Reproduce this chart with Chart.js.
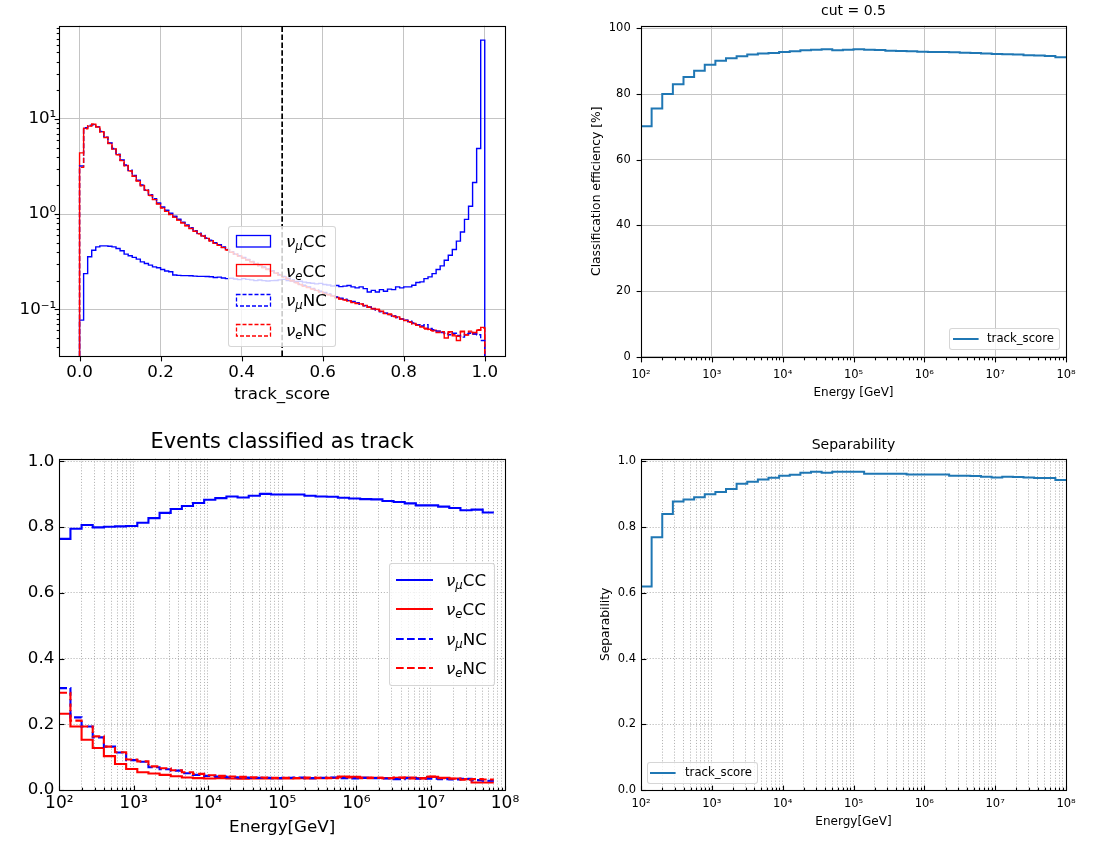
<!DOCTYPE html>
<html>
<head>
<meta charset="utf-8">
<title>Track score classification</title>
<script src="https://cdn.jsdelivr.net/npm/chart.js@4/dist/chart.umd.min.js"></script>
<style>
  html, body { margin: 0; padding: 0; background: #fff; }
  body { position: relative; width: 1107px; height: 843px; overflow: hidden; font-family: 'DejaVu Sans', sans-serif; }
  .panel { position: absolute; }
  .legend { position: absolute; box-sizing: border-box; background: rgba(255,255,255,0.8); border: 1px solid rgba(204,204,204,0.8); border-radius: 3px; }
  .legend svg { position: absolute; overflow: visible; }
  .legend .txt { position: absolute; white-space: nowrap; line-height: 1; transform: translateY(-50%); color: #000; }
  .legend i { font-style: italic; }
  .legend sub { font-size: 70%; font-style: italic; vertical-align: -0.3em; line-height: 0; }
</style>
</head>
<body>
<div class="panel" style="left:0;top:0;width:540px;height:415px"><canvas id="scoreHist"></canvas></div>
<div class="panel" style="left:560px;top:0;width:547px;height:415px"><canvas id="effPlot"></canvas></div>
<div class="panel" style="left:0;top:415px;width:540px;height:428px"><canvas id="trackFrac"></canvas></div>
<div class="panel" style="left:560px;top:415px;width:547px;height:428px"><canvas id="sepPlot"></canvas></div>

<script>
// ---- track_score histogram: 100 bins on [0, 1], log y ----
const scoreBins = 100;
const scoreTicks = [0, 0.2, 0.4, 0.6, 0.8, 1.0];
const histYMin = 0.0323;
const histYMax = 95.5;
const cutValue = 0.5;
const flavourLabels = ['<i>ν</i><sub>μ</sub>CC', '<i>ν</i><sub>e</sub>CC', '<i>ν</i><sub>μ</sub>NC', '<i>ν</i><sub>e</sub>NC'];

const scoreNumuCC = [
  0.077, 0.237, 0.356, 0.418, 0.453, 0.464, 0.464, 0.46, 0.453, 0.436,
  0.412, 0.38, 0.365, 0.351, 0.337, 0.315, 0.303, 0.291, 0.279, 0.273,
  0.262, 0.253, 0.248, 0.229, 0.227, 0.226, 0.226, 0.225, 0.223, 0.222,
  0.222, 0.221, 0.22, 0.216, 0.218, 0.213, 0.21, 0.212, 0.208, 0.205,
  0.21, 0.206, 0.204, 0.2, 0.203, 0.2, 0.198, 0.2, 0.201, 0.204,
  0.206, 0.2, 0.198, 0.196, 0.197, 0.193, 0.19, 0.188, 0.185, 0.187,
  0.182, 0.18, 0.176, 0.178, 0.173, 0.175, 0.178, 0.172, 0.168, 0.172,
  0.165, 0.152, 0.158, 0.152, 0.161, 0.155, 0.163, 0.161, 0.172, 0.168,
  0.172, 0.172, 0.179, 0.191, 0.194, 0.21, 0.219, 0.237, 0.262, 0.286,
  0.328, 0.37, 0.425, 0.52, 0.65, 0.88, 1.21, 2.15, 4.9, 67.4
];
const scoreNueCC = [
  4.4, 8.0, 8.4, 8.79, 8.22, 7.33, 6.38, 5.56, 4.84, 4.22,
  3.67, 3.24, 2.85, 2.51, 2.24, 2.0, 1.78, 1.58, 1.43, 1.29,
  1.17, 1.08, 1.0, 0.933, 0.871, 0.813, 0.759, 0.708, 0.661, 0.624,
  0.589, 0.556, 0.525, 0.495, 0.473, 0.447, 0.422, 0.398, 0.38, 0.363,
  0.347, 0.331, 0.316, 0.302, 0.288, 0.275, 0.263, 0.251, 0.24, 0.229,
  0.219, 0.209, 0.2, 0.191, 0.182, 0.176, 0.17, 0.164, 0.158, 0.153,
  0.148, 0.143, 0.138, 0.133, 0.129, 0.126, 0.123, 0.119, 0.116, 0.114,
  0.11, 0.106, 0.102, 0.1, 0.0955, 0.0912, 0.0891, 0.0851, 0.0832, 0.0794,
  0.0767, 0.0741, 0.0708, 0.0684, 0.0661, 0.0631, 0.0617, 0.0603, 0.0589, 0.0575,
  0.05, 0.058, 0.0525, 0.047, 0.0589, 0.0537, 0.0575, 0.055, 0.0603, 0.0646
];
const scoreNumuNC = [
  3.2, 8.1, 8.6, 8.7, 8.3, 7.4, 6.45, 5.6, 4.9, 4.27,
  3.7, 3.28, 2.89, 2.55, 2.27, 2.03, 1.8, 1.6, 1.45, 1.31,
  1.19, 1.1, 1.02, 0.95, 0.885, 0.825, 0.77, 0.718, 0.67, 0.632,
  0.596, 0.562, 0.531, 0.5, 0.477, 0.451, 0.426, 0.402, 0.383, 0.366,
  0.35, 0.334, 0.319, 0.305, 0.29, 0.278, 0.266, 0.254, 0.243, 0.232,
  0.222, 0.212, 0.203, 0.193, 0.185, 0.179, 0.172, 0.166, 0.16, 0.155,
  0.15, 0.145, 0.14, 0.135, 0.131, 0.128, 0.124, 0.121, 0.117, 0.113,
  0.109, 0.105, 0.101, 0.098, 0.094, 0.091, 0.088, 0.085, 0.082, 0.079,
  0.077, 0.075, 0.072, 0.069, 0.067, 0.069, 0.063, 0.061, 0.059, 0.057,
  0.056, 0.054, 0.056, 0.053, 0.051, 0.055, 0.056, 0.055, 0.054, 0.047
];
const scoreNueNC = [
  3.1, 7.9, 8.5, 8.8, 8.3, 7.3, 6.4, 5.5, 4.85, 4.2,
  3.65, 3.22, 2.84, 2.5, 2.23, 1.99, 1.77, 1.57, 1.42, 1.28,
  1.16, 1.07, 0.99, 0.93, 0.865, 0.81, 0.755, 0.705, 0.66, 0.62,
  0.585, 0.553, 0.522, 0.493, 0.47, 0.445, 0.42, 0.397, 0.378, 0.362,
  0.346, 0.33, 0.315, 0.301, 0.287, 0.274, 0.262, 0.25, 0.239, 0.228,
  0.218, 0.208, 0.199, 0.19, 0.181, 0.175, 0.169, 0.163, 0.157, 0.152,
  0.147, 0.142, 0.137, 0.132, 0.128, 0.125, 0.122, 0.118, 0.115, 0.113,
  0.109, 0.105, 0.101, 0.099, 0.095, 0.09, 0.088, 0.084, 0.082, 0.079,
  0.076, 0.073, 0.07, 0.068, 0.065, 0.062, 0.06, 0.059, 0.057, 0.058,
  0.055, 0.057, 0.054, 0.052, 0.058, 0.054, 0.059, 0.057, 0.061, 0.063
];

// ---- energy binned results: 40 bins of 0.15 decade from 1e2 ----
const energyMinExp = 2;
const energyBinDecades = 0.15;
const energyMin = 1e2;
const energyMax = 1e8;
const effTicks = [0, 20, 40, 60, 80, 100];
const fracTicks = [0, 0.2, 0.4, 0.6, 0.8, 1.0];

const effTrackScore = [
  70.2, 75.6, 80.0, 83.0, 85.2, 87.1, 88.9, 90.1, 90.9, 91.5,
  92.0, 92.3, 92.5, 92.8, 93.0, 93.3, 93.5, 93.6, 93.3, 93.5,
  93.6, 93.5, 93.4, 93.2, 93.1, 93.0, 92.9, 92.8, 92.8, 92.7,
  92.6, 92.5, 92.3, 92.2, 92.1, 92.0, 91.8, 91.7, 91.6, 91.2
];
const sepTrackScore = [
  0.619, 0.769, 0.840, 0.878, 0.884, 0.891, 0.900, 0.907, 0.916, 0.932,
  0.938, 0.945, 0.950, 0.956, 0.959, 0.965, 0.968, 0.965, 0.968, 0.968,
  0.968, 0.962, 0.962, 0.962, 0.962, 0.960, 0.960, 0.960, 0.960, 0.956,
  0.956, 0.955, 0.953, 0.951, 0.953, 0.952, 0.951, 0.949, 0.949, 0.943
];
const trackNumuCC = [
  0.764, 0.795, 0.806, 0.799, 0.801, 0.802, 0.803, 0.813, 0.827, 0.843,
  0.855, 0.864, 0.873, 0.883, 0.888, 0.893, 0.890, 0.895, 0.901, 0.899,
  0.899, 0.899, 0.895, 0.893, 0.892, 0.889, 0.887, 0.885, 0.884, 0.879,
  0.876, 0.872, 0.866, 0.866, 0.862, 0.858, 0.851, 0.853, 0.844, 0.844
];
const trackNueCC = [
  0.232, 0.193, 0.153, 0.128, 0.103, 0.079, 0.064, 0.054, 0.050, 0.046,
  0.042, 0.038, 0.036, 0.035, 0.036, 0.035, 0.034, 0.035, 0.035, 0.035,
  0.035, 0.036, 0.035, 0.036, 0.037, 0.041, 0.040, 0.038, 0.037, 0.036,
  0.037, 0.038, 0.036, 0.040, 0.037, 0.035, 0.033, 0.023, 0.023, 0.023
];
const trackNumuNC = [
  0.310, 0.221, 0.193, 0.160, 0.132, 0.114, 0.091, 0.086, 0.069, 0.063,
  0.059, 0.051, 0.046, 0.043, 0.041, 0.039, 0.038, 0.037, 0.037, 0.036,
  0.037, 0.038, 0.036, 0.037, 0.038, 0.036, 0.035, 0.037, 0.036, 0.035,
  0.033, 0.036, 0.034, 0.034, 0.033, 0.032, 0.034, 0.030, 0.028, 0.028
];
const trackNueNC = [
  0.296, 0.211, 0.193, 0.163, 0.132, 0.115, 0.093, 0.087, 0.072, 0.066,
  0.060, 0.054, 0.049, 0.045, 0.043, 0.041, 0.040, 0.039, 0.038, 0.037,
  0.037, 0.036, 0.038, 0.037, 0.036, 0.039, 0.038, 0.036, 0.037, 0.036,
  0.038, 0.035, 0.035, 0.041, 0.036, 0.034, 0.031, 0.033, 0.032, 0.032
];

const BLUE = '#0000ff';
const RED = '#ff0000';
const TAB_BLUE = '#1f77b4';

Chart.defaults.font.family = "'DejaVu Sans', sans-serif";
Chart.defaults.color = '#000';

const SUP = { '0': '⁰', '1': '¹', '2': '²', '3': '³', '4': '⁴', '5': '⁵', '6': '⁶', '7': '⁷', '8': '⁸', '9': '⁹', '-': '⁻' };
const powLabel = e => '10' + String(e).split('').map(c => SUP[c]).join('');

// major + minor ticks of a log axis, minors get no label
function logAxisTicks(min, max) {
  const ticks = [];
  for (let e = Math.floor(Math.log10(min)); e <= Math.ceil(Math.log10(max)); e++) {
    for (let m = 1; m < 10; m++) {
      const v = m * Math.pow(10, e);
      if (v >= min * 0.999 && v <= max * 1.001) ticks.push({ value: v, minor: m !== 1, exp: e });
    }
  }
  return ticks;
}

function histOutline(values) {
  const pts = [{ x: 0, y: histYMin }];
  values.forEach((v, i) => pts.push({ x: i / scoreBins, y: v }));
  pts.push({ x: 1, y: histYMin });
  return pts;
}

const energyEdge = i => Math.pow(10, energyMinExp + energyBinDecades * i);
function energySteps(values, closeLast) {
  const pts = values.map((v, i) => ({ x: energyEdge(i), y: v }));
  if (closeLast) pts.push({ x: energyEdge(values.length), y: values[values.length - 1] });
  return pts;
}

function stepLine(points, color, width, dash, order) {
  return { data: points, borderColor: color, borderWidth: width, borderDash: dash, stepped: true,
           pointRadius: 0, fill: false, order };
}

// black box around the axes plus tick marks (matplotlib style)
const framePlugin = {
  id: 'frame',
  defaults: { inward: false, major: 4.9, minor: 2.8 },
  afterDatasetsDraw(chart, args, opts) {
    const { ctx, chartArea: a } = chart;
    ctx.save();
    ctx.strokeStyle = '#000';
    ctx.lineWidth = 1.1;
    const L = Math.round(a.left) + 0.5, R = Math.round(a.right) + 0.5;
    const T = Math.round(a.top) + 0.5, B = Math.round(a.bottom) + 0.5;
    ctx.strokeRect(L, T, R - L, B - T);
    const dir = opts.inward ? -1 : 1;
    ['x', 'y'].forEach(id => {
      const s = chart.scales[id];
      s.ticks.forEach(t => {
        const len = (t.minor ? opts.minor : opts.major) * dir;
        const p = Math.round(s.getPixelForValue(t.value)) + 0.5;
        ctx.beginPath();
        if (id === 'x') { ctx.moveTo(p, B); ctx.lineTo(p, B + len); }
        else { ctx.moveTo(L, p); ctx.lineTo(L - len, p); }
        ctx.stroke();
      });
    });
    ctx.restore();
  }
};
Chart.register(framePlugin);

const fixWidth = w => s => { s.width = w; };
const fixHeight = h => s => { s.height = h; };
const solidGrid = { color: '#c4c4c4', lineWidth: 1, drawTicks: false };
const dottedGrid = { color: '#b4b4b4', lineWidth: 1, drawTicks: false };
const noBorder = { display: false };
const dottedBorder = { display: false, dash: [1.1, 1.8] };

function baseOptions(pad, title, inward) {
  return {
    responsive: true, maintainAspectRatio: false, animation: false, devicePixelRatio: 1,
    layout: { padding: pad },
    plugins: {
      legend: { display: false },
      tooltip: { enabled: false },
      title: title || { display: false },
      frame: { inward }
    }
  };
}

// ---- top left: track_score distributions ----
new Chart(document.getElementById('scoreHist'), {
  type: 'line',
  data: {
    datasets: [
      stepLine(histOutline(scoreNumuCC), BLUE, 1.4, [], 4),
      stepLine(histOutline(scoreNueCC), RED, 1.4, [], 3),
      stepLine(histOutline(scoreNumuNC), BLUE, 1.4, [5.1, 2.2], 2),
      stepLine(histOutline(scoreNueNC), RED, 1.4, [5.1, 2.2], 1),
      { data: [{ x: cutValue, y: histYMin }, { x: cutValue, y: histYMax }], borderColor: '#000',
        borderWidth: 1.7, borderDash: [5.5, 2.4], pointRadius: 0, fill: false, order: 0 }
    ]
  },
  options: Object.assign(baseOptions({ left: 0, top: 25.7, right: 35, bottom: 0 }, null, false), {
    scales: {
      x: {
        type: 'linear', min: -0.05, max: 1.05,
        afterBuildTicks: s => { s.ticks = scoreTicks.map(v => ({ value: v })); },
        afterFit: fixHeight(59),
        grid: solidGrid, border: noBorder,
        ticks: { autoSkip: false, maxRotation: 0, padding: 6.7, font: { size: 16.7 }, callback: v => v.toFixed(1) },
        title: { display: true, text: 'track_score', font: { size: 16.7 }, padding: { top: 0, bottom: 10.5 } }
      },
      y: {
        type: 'logarithmic', min: histYMin, max: histYMax,
        afterBuildTicks: s => { s.ticks = logAxisTicks(histYMin, histYMax); },
        afterFit: fixWidth(59.3),
        grid: { color: c => (c.tick && c.tick.minor ? 'rgba(0,0,0,0)' : '#c4c4c4'), lineWidth: 1, drawTicks: false },
        border: noBorder,
        ticks: { autoSkip: false, padding: 3, font: { size: 16.7 },
                 callback: (v, i, t) => (t[i].minor ? '' : powLabel(t[i].exp)) }
      }
    }
  })
});

// ---- top right: classification efficiency ----
new Chart(document.getElementById('effPlot'), {
  type: 'line',
  data: { datasets: [stepLine(energySteps(effTrackScore, true), TAB_BLUE, 2, [], 1)] },
  options: Object.assign(baseOptions({ left: 0, top: 0, right: 41, bottom: 0 },
    { display: true, text: 'cut = 0.5', fullSize: false, font: { size: 14, weight: 'normal' },
      padding: { top: 3.3, bottom: 5.6 } }, false), {
    scales: {
      x: {
        type: 'logarithmic', min: energyMin, max: energyMax,
        afterBuildTicks: s => { s.ticks = logAxisTicks(energyMin, energyMax); },
        afterFit: fixHeight(58.3),
        grid: { color: c => (c.tick && c.tick.minor ? 'rgba(0,0,0,0)' : '#c4c4c4'), lineWidth: 1, drawTicks: false },
        border: noBorder,
        ticks: { autoSkip: false, maxRotation: 0, padding: 11.4, font: { size: 11.5 },
                 callback: (v, i, t) => (t[i].minor ? '' : powLabel(t[i].exp)) },
        title: { display: true, text: 'Energy [GeV]', font: { size: 12 }, padding: { top: 0, bottom: 15.1 } }
      },
      y: {
        type: 'linear', min: 0, max: 100.8,
        afterBuildTicks: s => { s.ticks = effTicks.map(v => ({ value: v })); },
        afterFit: fixWidth(81),
        grid: solidGrid, border: noBorder,
        ticks: { autoSkip: false, padding: 10.3, font: { size: 11.5 }, callback: v => String(v) },
        title: { display: true, text: 'Classification efficiency [%]', font: { size: 12.3 }, padding: { top: 29.3, bottom: 0 } }
      }
    }
  })
});

// ---- bottom left: fraction classified as track per flavour ----
new Chart(document.getElementById('trackFrac'), {
  type: 'line',
  data: {
    datasets: [
      stepLine(energySteps(trackNumuCC, false), BLUE, 2.1, [], 4),
      stepLine(energySteps(trackNueCC, false), RED, 2.1, [], 3),
      stepLine(energySteps(trackNumuNC, false), BLUE, 2.1, [7.7, 3.3], 2),
      stepLine(energySteps(trackNueNC, false), RED, 2.1, [7.7, 3.3], 1)
    ]
  },
  options: Object.assign(baseOptions({ left: 0, top: 0, right: 35, bottom: 0 },
    { display: true, text: 'Events classified as track', fullSize: false, font: { size: 20.8, weight: 'normal' },
      padding: { top: 15.5, bottom: 3.2 } }, true), {
    scales: {
      x: {
        type: 'logarithmic', min: energyMin, max: energyMax,
        afterBuildTicks: s => { s.ticks = logAxisTicks(energyMin, energyMax); },
        afterFit: fixHeight(53),
        grid: dottedGrid, border: dottedBorder,
        ticks: { autoSkip: false, maxRotation: 0, padding: 3.1, font: { size: 17 },
                 callback: (v, i, t) => (t[i].minor ? '' : powLabel(t[i].exp)) },
        title: { display: true, text: 'Energy[GeV]', font: { size: 16.7 }, padding: { top: 0, bottom: 5.7 } }
      },
      y: {
        type: 'linear', min: 0, max: 1.008,
        afterBuildTicks: s => { s.ticks = fracTicks.map(v => ({ value: v })); },
        afterFit: fixWidth(59.3),
        grid: dottedGrid, border: dottedBorder,
        ticks: { autoSkip: false, padding: 5, font: { size: 16.7 }, callback: v => v.toFixed(1) }
      }
    }
  })
});

// ---- bottom right: separability ----
new Chart(document.getElementById('sepPlot'), {
  type: 'line',
  data: { datasets: [stepLine(energySteps(sepTrackScore, true), TAB_BLUE, 2, [], 1)] },
  options: Object.assign(baseOptions({ left: 0, top: 0, right: 41, bottom: 0 },
    { display: true, text: 'Separability', fullSize: false, font: { size: 14, weight: 'normal' },
      padding: { top: 21.6, bottom: 5.3 } }, true), {
    scales: {
      x: {
        type: 'logarithmic', min: energyMin, max: energyMax,
        afterBuildTicks: s => { s.ticks = logAxisTicks(energyMin, energyMax); },
        afterFit: fixHeight(53),
        grid: dottedGrid, border: dottedBorder,
        ticks: { autoSkip: false, maxRotation: 0, padding: 7.1, font: { size: 11.5 },
                 callback: (v, i, t) => (t[i].minor ? '' : powLabel(t[i].exp)) },
        title: { display: true, text: 'Energy[GeV]', font: { size: 12 }, padding: { top: 0, bottom: 13.5 } }
      },
      y: {
        type: 'linear', min: 0, max: 1.008,
        afterBuildTicks: s => { s.ticks = fracTicks.map(v => ({ value: v })); },
        afterFit: fixWidth(81),
        grid: dottedGrid, border: dottedBorder,
        ticks: { autoSkip: false, padding: 5, font: { size: 11.5 }, callback: v => v.toFixed(1) },
        title: { display: true, text: 'Separability', font: { size: 12.3 }, padding: { top: 38.3, bottom: 0 } }
      }
    }
  })
});

// ---- HTML legends (subscripts need real markup) ----
function addLegend(box, rows) {
  const el = document.createElement('div');
  el.className = 'legend';
  Object.assign(el.style, { left: box.left + 'px', top: box.top + 'px', width: box.width + 'px', height: box.height + 'px' });
  rows.forEach((r, i) => {
    const cy = box.firstY + i * box.stepY;
    const dash = r.dash ? r.dash.join(' ') : 'none';
    let key;
    if (box.kind === 'patch') {
      key = `<svg style="left:${box.keyLeft}px;top:${cy - box.keyH / 2}px" width="${box.keyW}" height="${box.keyH}">` +
            `<rect x="0.5" y="0.5" width="${box.keyW - 1}" height="${box.keyH - 1}" fill="none" stroke="${r.color}" ` +
            `stroke-width="${box.lw}" stroke-dasharray="${dash}"/></svg>`;
    } else {
      key = `<svg style="left:${box.keyLeft}px;top:${cy - 3}px" width="${box.keyW}" height="6">` +
            `<line x1="0" y1="3" x2="${box.keyW}" y2="3" stroke="${r.color}" stroke-width="${box.lw}" ` +
            `stroke-dasharray="${dash}"/></svg>`;
    }
    el.insertAdjacentHTML('beforeend', key +
      `<div class="txt" style="left:${box.textLeft}px;top:${cy}px;font-size:${box.font}px">${r.label}</div>`);
  });
  document.body.appendChild(el);
}

addLegend({ left: 228, top: 226, width: 108, height: 121, firstY: 14, stepY: 29.6, kind: 'patch',
            keyLeft: 7, keyW: 35, keyH: 12.5, lw: 1.3, textLeft: 57, font: 16.7 }, [
  { label: flavourLabels[0], color: BLUE },
  { label: flavourLabels[1], color: RED },
  { label: flavourLabels[2], color: BLUE, dash: [4, 2] },
  { label: flavourLabels[3], color: RED, dash: [4, 2] }
]);
addLegend({ left: 389, top: 563, width: 106, height: 123, firstY: 16, stepY: 29.4, kind: 'line',
            keyLeft: 6, keyW: 37, lw: 2.1, textLeft: 56, font: 16.7 }, [
  { label: flavourLabels[0], color: BLUE },
  { label: flavourLabels[1], color: RED },
  { label: flavourLabels[2], color: BLUE, dash: [7.7, 3.3] },
  { label: flavourLabels[3], color: RED, dash: [7.7, 3.3] }
]);
addLegend({ left: 949, top: 328, width: 111, height: 22, firstY: 10, stepY: 0, kind: 'line',
            keyLeft: 3, keyW: 25.6, lw: 2, textLeft: 37, font: 11.7 }, [
  { label: 'track_score', color: TAB_BLUE }
]);
addLegend({ left: 647, top: 762, width: 111, height: 22, firstY: 10, stepY: 0, kind: 'line',
            keyLeft: 2, keyW: 25.6, lw: 2, textLeft: 37, font: 11.7 }, [
  { label: 'track_score', color: TAB_BLUE }
]);
</script>
</body>
</html>
